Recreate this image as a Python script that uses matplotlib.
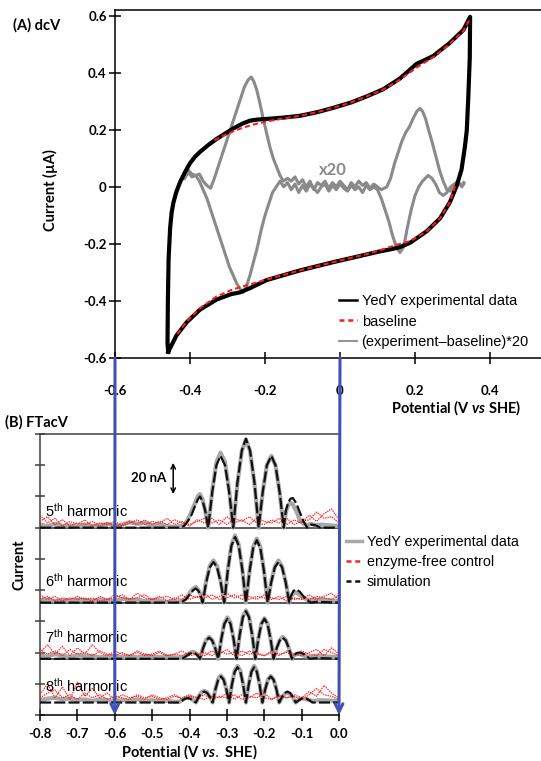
import matplotlib
matplotlib.use('Agg')
import matplotlib.pyplot as plt
from matplotlib.lines import Line2D
from matplotlib.patches import ConnectionPatch

plt.rcParams['font.family'] = ['Liberation Sans', 'DejaVu Sans']
plt.rcParams['mathtext.fontset'] = 'custom'
plt.rcParams['mathtext.rm'] = 'Liberation Sans'
plt.rcParams['mathtext.it'] = 'Lato:italic:bold'
plt.rcParams['mathtext.bf'] = 'Lato:bold'

BOLD = dict(family=['Lato', 'DejaVu Sans'], weight='bold')

# ---------------- (A) dcV data ----------------
CV_V = [-0.458, -0.460, -0.459, -0.457, -0.453, -0.449, -0.444, -0.437, -0.427, -0.414, -0.400, -0.387,
        -0.373, -0.350, -0.329, -0.305,
        -0.284, -0.260, -0.240, -0.220, -0.196, -0.150, -0.107, -0.060, -0.018, 0.030, 0.071, 0.115,
        0.160, 0.204, 0.249, 0.293, 0.329, 0.347,
        0.346, 0.342, 0.338, 0.333, 0.324, 0.311, 0.293, 0.267, 0.231, 0.187, 0.160, 0.142, 0.100,
        0.071, -0.018, -0.107, -0.196, -0.240, -0.267, -0.290, -0.329, -0.373, -0.409, -0.436, -0.458]
CV_I = [-0.578, -0.550, -0.400, -0.250, -0.145, -0.090, -0.054, -0.020, 0.015, 0.050, 0.083, 0.105,
        0.123, 0.148, 0.168, 0.188,
        0.205, 0.222, 0.232, 0.236, 0.238, 0.243, 0.249, 0.262, 0.277, 0.296, 0.317, 0.342,
        0.380, 0.431, 0.459, 0.505, 0.550, 0.596,
        0.450, 0.311, 0.197, 0.140, 0.060, 0.003, -0.054, -0.110, -0.156, -0.196, -0.211, -0.217, -0.228,
        -0.237, -0.264, -0.293, -0.327, -0.355, -0.370, -0.376, -0.395, -0.430, -0.475, -0.521, -0.578]

BASE_UP_V = [-0.335, -0.310, -0.284, -0.260, -0.240, -0.220, -0.196, -0.150, -0.107, -0.060, -0.018,
             0.030, 0.071, 0.115, 0.160, 0.204, 0.249, 0.293, 0.329, 0.345]
BASE_UP_I = [0.163, 0.180, 0.195, 0.207, 0.215, 0.222, 0.229, 0.240, 0.249, 0.262, 0.277,
             0.296, 0.317, 0.341, 0.376, 0.418, 0.455, 0.502, 0.547, 0.585]
BASE_DN_V = [0.307, 0.293, 0.267, 0.231, 0.187, 0.160, 0.142, 0.100, 0.071, -0.018, -0.107, -0.196,
             -0.240, -0.267, -0.290, -0.329, -0.373, -0.409, -0.436]
BASE_DN_I = [0.003, -0.054, -0.110, -0.156, -0.190, -0.200, -0.207, -0.225, -0.236, -0.264, -0.293, -0.325,
             -0.342, -0.352, -0.362, -0.384, -0.425, -0.472, -0.521]

DIFF_UP_V = [-0.415, -0.405, -0.395, -0.385, -0.375, -0.365, -0.355, -0.345, -0.335, -0.325, -0.315,
             -0.305, -0.295, -0.285, -0.275, -0.265, -0.255, -0.245, -0.237, -0.230, -0.222, -0.213,
             -0.205, -0.196, -0.187, -0.178, -0.169, -0.160, -0.151,
             -0.14, -0.13, -0.12, -0.11, -0.10, -0.09, -0.08, -0.07, -0.06, -0.05, -0.04, -0.03, -0.02,
             -0.01, 0.00, 0.01, 0.02, 0.03, 0.04, 0.05, 0.06, 0.07, 0.08, 0.09, 0.10, 0.11,
             0.125, 0.135, 0.145, 0.155, 0.165, 0.175, 0.185, 0.195, 0.205, 0.213, 0.220, 0.228, 0.236,
             0.245, 0.255, 0.265, 0.275, 0.285, 0.295, 0.305, 0.315, 0.325, 0.330]
DIFF_UP_I = [0.030, 0.060, 0.045, 0.040, 0.045, 0.020, 0.005, -0.005, 0.030, 0.070, 0.110,
             0.150, 0.190, 0.230, 0.270, 0.310, 0.350, 0.375, 0.385, 0.370, 0.340, 0.290,
             0.240, 0.190, 0.140, 0.100, 0.070, 0.040, 0.020,
             0.030, 0.020, 0.035, 0.010, 0.025, 0.000, 0.020, -0.010, 0.015, 0.005, 0.020, -0.005, 0.015,
             0.000, 0.020, 0.005, -0.010, 0.015, 0.000, 0.020, 0.005, 0.015, -0.005, 0.010, 0.000, -0.010,
             0.000, 0.030, 0.080, 0.120, 0.160, 0.190, 0.210, 0.240, 0.265, 0.275, 0.265, 0.240, 0.200,
             0.160, 0.110, 0.060, 0.020, -0.010, -0.015, 0.000, 0.010, 0.005, 0.015]

DIFF_DN_V = [-0.415, -0.405, -0.395, -0.385, -0.375, -0.365, -0.355, -0.345, -0.335, -0.325, -0.315,
             -0.305, -0.295, -0.285, -0.275, -0.265, -0.258, -0.250, -0.240, -0.230, -0.220, -0.210,
             -0.200, -0.190, -0.180, -0.170,
             -0.16, -0.15, -0.14, -0.13, -0.12, -0.11, -0.10, -0.09, -0.08, -0.07, -0.06, -0.05, -0.04,
             -0.03, -0.02, -0.01, 0.00, 0.01, 0.02, 0.03, 0.04, 0.05, 0.06, 0.07, 0.08, 0.09,
             0.100, 0.110, 0.120, 0.130, 0.140, 0.150, 0.160, 0.170, 0.180, 0.190, 0.200, 0.210, 0.220,
             0.235, 0.245, 0.255, 0.265, 0.275, 0.285, 0.295, 0.305, 0.315, 0.325, 0.330]
DIFF_DN_I = [0.030, 0.050, 0.035, 0.040, 0.020, -0.010, -0.040, -0.080, -0.120, -0.160, -0.200,
             -0.240, -0.280, -0.310, -0.340, -0.360, -0.370, -0.350, -0.310, -0.260, -0.210, -0.150,
             -0.100, -0.060, -0.020, 0.000,
             0.020, 0.000, 0.015, -0.010, 0.010, -0.020, 0.005, -0.015, 0.010, -0.005, -0.020, 0.000, 0.010,
             -0.015, 0.005, -0.010, 0.010, -0.005, -0.015, 0.005, -0.010, 0.000, -0.020, 0.005, -0.010, 0.000,
             -0.010, -0.040, -0.080, -0.120, -0.170, -0.210, -0.230, -0.210, -0.140, -0.080, -0.030, 0.000, 0.020,
             0.040, 0.030, 0.010, -0.020, -0.030, -0.020, 0.000, 0.010, 0.020, 0.000, 0.010]

A_YTICKS = [-0.6, -0.4, -0.2, 0.0, 0.2, 0.4, 0.6]
A_YLABELS = ['-0.6', '-0.4', '-0.2', '0', '0.2', '0.4', '0.6']
A_XTICKS = [-0.6, -0.4, -0.2, 0.0, 0.2, 0.4]
A_XLABELS = ['-0.6', '-0.4', '-0.2', '0', '0.2', '0.4']

# ---------------- (B) FTacV data (nA above each harmonic's baseline) ----------------
OFFSETS = [120, 72, 36, 8]
HARM_NAMES = ['5', '6', '7', '8']

V5 = [-0.80, -0.43, -0.415, -0.405, -0.395, -0.385, -0.378, -0.372, -0.365, -0.358, -0.350,
      -0.339, -0.328, -0.317, -0.305, -0.294, -0.283,
      -0.272, -0.260, -0.249, -0.238, -0.226, -0.215,
      -0.204, -0.193, -0.181, -0.170, -0.159, -0.148,
      -0.142, -0.136, -0.130, -0.124, -0.115, -0.105, -0.095, -0.085,
      -0.075, -0.062, -0.05, 0.0]
SIM5 = [0, 0, 1, 4, 8, 14, 18, 20, 17, 11, 0,
        23, 40, 46, 40, 23, 0,
        28.5, 49.5, 57, 49.5, 28.5, 0,
        23, 40, 46, 40, 23, 0,
        11, 16, 18.5, 19, 16, 10, 4, 0,
        2, 1.5, 0, 0]
EXP5 = [1.5, 5, 10, 16, 20, 21.5, 18, 11, 0,
        24, 42, 48, 42, 24, 0,
        28, 49, 56.5, 49, 28, 0,
        23, 40, 46, 40, 23, 0,
        10, 14.5, 16, 15, 11, 5, 2.5, 1.5,
        2.5, 1.5, 2, 1]

V6 = [-0.80, -0.435, -0.423, -0.41, -0.40, -0.39, -0.383, -0.376, -0.370, -0.365,
      -0.3553, -0.3457, -0.336, -0.3263, -0.3167, -0.307,
      -0.2973, -0.2877, -0.278, -0.2683, -0.2587, -0.249,
      -0.2393, -0.2297, -0.220, -0.2103, -0.2007, -0.191,
      -0.1813, -0.1717, -0.162, -0.1523, -0.1427, -0.133,
      -0.128, -0.122, -0.115, -0.105, -0.095, -0.085, -0.075,
      -0.06, 0.0]
SIM6 = [0, 0, 0, 2, 5, 8, 9, 7.5, 4.5, 0,
        13, 22.6, 26, 22.6, 13, 0,
        21, 36.5, 42, 36.5, 21, 0,
        20, 34.8, 40, 34.8, 20, 0,
        13, 22.6, 26, 22.6, 13, 0,
        4.5, 7.5, 8.5, 7, 4, 1.5, 0,
        0.5, 0]
EXP6 = [0.5, 2.5, 6, 9, 10, 8, 5, 0,
        14, 23.5, 27, 23.5, 14, 0,
        21.5, 37, 43, 37, 21.5, 0,
        20.5, 35.5, 41, 35.5, 20.5, 0,
        13.5, 23, 27, 23, 13.5, 0,
        4, 6, 6.5, 5, 3, 2, 1.5,
        2, 1]

V7 = [-0.80, -0.43, -0.420, -0.41, -0.40, -0.392, -0.385, -0.378, -0.372,
      -0.3638, -0.3557, -0.3475, -0.3393, -0.3312, -0.323,
      -0.3148, -0.3067, -0.2985, -0.2903, -0.2822, -0.274,
      -0.2657, -0.2573, -0.249, -0.2407, -0.2323, -0.224,
      -0.2158, -0.2077, -0.1995, -0.1913, -0.1832, -0.175,
      -0.1668, -0.1587, -0.1505, -0.1423, -0.1342, -0.126,
      -0.12, -0.112, -0.104, -0.095, -0.086, -0.078, -0.06, 0.0]
SIM7 = [0, 0, 0, 1.5, 3.2, 4, 3.5, 2, 0,
        6.75, 11.7, 13.5, 11.7, 6.75, 0,
        12.8, 22.3, 25.6, 22.3, 12.8, 0,
        15.25, 26.5, 30.5, 26.5, 15.25, 0,
        12.8, 22.3, 25.6, 22.3, 12.8, 0,
        6.75, 11.7, 13.5, 11.7, 6.75, 0,
        2.5, 3.8, 4, 3.2, 1.5, 0, 0.5, 0]
EXP7 = [0.5, 2, 3.5, 4.5, 4, 2.5, 0,
        7, 12, 14, 12, 7, 0,
        13, 23, 26.5, 23, 13, 0,
        15.5, 27, 31, 27, 15.5, 0,
        13, 22.5, 26, 22.5, 13, 0,
        7, 12, 14, 12, 7, 0,
        2.5, 3, 3, 2, 1.5, 1, 2, 1]

V8 = [-0.80, -0.435, -0.427, -0.42, -0.412, -0.405, -0.398, -0.39, -0.383,
      -0.3756, -0.3682, -0.3605, -0.3528, -0.3454, -0.338,
      -0.3307, -0.3233, -0.316, -0.3087, -0.3013, -0.294,
      -0.2866, -0.2791, -0.2715, -0.2639, -0.2564, -0.249,
      -0.2416, -0.2341, -0.227, -0.2199, -0.2124, -0.205,
      -0.1976, -0.1901, -0.1825, -0.1749, -0.1674, -0.160,
      -0.1527, -0.1453, -0.138, -0.1307, -0.1233, -0.116,
      -0.109, -0.101, -0.093, -0.086, -0.078, -0.071, -0.05, 0.0]
SIM8 = [0, 0, 0, 1.2, 2.4, 2.8, 2.4, 1.2, 0,
        3.5, 6.1, 7, 6.1, 3.5, 0,
        8.35, 14.5, 16.7, 14.5, 8.35, 0,
        11.3, 19.7, 22.6, 19.7, 11.3, 0,
        11.3, 19.7, 22.6, 19.7, 11.3, 0,
        8.35, 14.5, 16.7, 14.5, 8.35, 0,
        3.5, 6.1, 7, 6.1, 3.5, 0,
        1.2, 2.4, 2.8, 2.4, 1.2, 0, 0, 0]
EXP8 = [0.5, 1.5, 2.8, 3.2, 2.8, 1.5, 0,
        3.8, 6.5, 7.5, 6.5, 3.8, 0,
        8.6, 15, 17.2, 15, 8.6, 0,
        11.7, 20.3, 23.4, 20.3, 11.7, 0,
        11.7, 20.3, 23.4, 20.3, 11.7, 0,
        8.5, 14.7, 17, 14.7, 8.5, 0,
        3.2, 5.5, 6.3, 5.5, 3.2, 0,
        1.5, 2.5, 2.5, 2, 1.5, 1, 1.5, 1]

# experimental noise before the lobes (-0.80 ... -0.44, step 0.02)
EXP_LEFT_V = [-0.80, -0.78, -0.76, -0.74, -0.72, -0.70, -0.68, -0.66, -0.64, -0.62,
              -0.60, -0.58, -0.56, -0.54, -0.52, -0.50, -0.48, -0.46, -0.44]
EXP5_LEFT = [2, 1, 2.5, 1, 1.5, 0.5, 2, 1, 1.5, 2.5, 1, 2, 3.5, 2.5, 3, 1.5, 2, 1, 0.5]
EXP6_LEFT = [1.5, 2, 1, 1.5, 1, 2, 1.5, 1, 2, 1.5, 1, 2.5, 1.5, 2, 1, 1.5, 1, 0.5, 1]
EXP7_LEFT = [2, 1.5, 3, 2, 1, 2.5, 1.5, 2, 1, 1.5, 2, 1, 1.5, 1, 2, 1.5, 1, 1.5, 1]
EXP8_LEFT = [1.5, 2.5, 3, 2, 2.5, 1.5, 2, 1, 2, 1.5, 1, 1.5, 1, 2, 1, 1.5, 1, 1, 0.5]

# enzyme-free control (two scans), -0.80 ... 0.00 step 0.02
CTRL_V = [-0.80, -0.78, -0.76, -0.74, -0.72, -0.70, -0.68, -0.66, -0.64, -0.62, -0.60,
          -0.58, -0.56, -0.54, -0.52, -0.50, -0.48, -0.46, -0.44, -0.42, -0.40,
          -0.38, -0.36, -0.34, -0.32, -0.30, -0.28, -0.26, -0.24, -0.22, -0.20,
          -0.18, -0.16, -0.14, -0.12, -0.10, -0.08, -0.06, -0.04, -0.02, 0.00]
CTRL5_A = [8, 3, 6, 1, 4, 2, 5, 1, 3, 2, 4, 1, 3, 5, 2, 4, 3, 6, 2, 4, 1,
           5, 3, 6, 2, 7, 3, 5, 2, 6, 4, 3, 6, 2, 5, 3, 8, 4, 9, 12, 5]
CTRL5_B = [4, 7, 2, 5, 1, 3, 2, 4, 1, 3, 1, 2, 4, 2, 5, 2, 4, 2, 5, 3, 2,
           4, 6, 3, 5, 2, 6, 4, 7, 3, 2, 5, 3, 6, 2, 4, 5, 10, 6, 7, 3]
CTRL6_A = [5, 2, 4, 1, 3, 2, 3, 1, 4, 2, 5, 3, 2, 6, 3, 2, 4, 1, 3, 2, 5,
           3, 6, 2, 4, 6, 3, 5, 2, 4, 3, 2, 4, 1, 3, 2, 5, 2, 4, 6, 2]
CTRL6_B = [2, 4, 1, 3, 2, 4, 2, 3, 1, 2, 3, 5, 2, 3, 5, 2, 3, 4, 2, 5, 2,
           4, 3, 5, 2, 3, 5, 2, 4, 2, 5, 3, 2, 4, 2, 3, 2, 4, 3, 2, 5]
CTRL7_A = [4, 9, 3, 8, 2, 7, 3, 9, 4, 2, 5, 3, 2, 4, 2, 3, 5, 2, 3, 2, 4,
           3, 2, 5, 3, 6, 2, 5, 3, 4, 2, 5, 3, 4, 2, 5, 3, 2, 6, 4, 2]
CTRL7_B = [6, 3, 5, 2, 6, 3, 4, 2, 5, 3, 2, 4, 2, 5, 3, 2, 4, 2, 3, 5, 2,
           3, 4, 2, 5, 3, 4, 2, 5, 3, 2, 4, 2, 5, 3, 2, 4, 6, 2, 7, 3]
CTRL8_A = [5, 12, 3, 10, 2, 13, 4, 9, 3, 6, 2, 5, 3, 4, 2, 5, 3, 2, 4, 3, 5,
           3, 2, 4, 3, 6, 2, 5, 4, 3, 6, 2, 4, 3, 5, 3, 7, 4, 11, 6, 3]
CTRL8_B = [3, 6, 8, 3, 5, 2, 6, 3, 5, 2, 4, 3, 2, 5, 3, 4, 2, 3, 5, 2, 4,
           3, 5, 2, 4, 3, 5, 2, 3, 6, 3, 2, 5, 3, 4, 2, 5, 9, 5, 4, 2]

B_XTICKS = [-0.8, -0.7, -0.6, -0.5, -0.4, -0.3, -0.2, -0.1, 0.0]
B_XLABELS = ['-0.8', '-0.7', '-0.6', '-0.5', '-0.4', '-0.3', '-0.2', '-0.1', '0.0']
B_YTICKS = [0, 20, 40, 60, 80, 100, 120, 140, 160, 180]

# ---------------- figure ----------------
W, H = 541, 761
fig = plt.figure(figsize=(W / 100, H / 100), dpi=100)


def fx(px):
    return px / W


def fy(py):
    return 1 - py / H


# ----- panel A -----
axA = fig.add_axes([fx(115), fy(358), 1 - fx(115), fy(10) - fy(358)])
axA.set_xlim(-0.6, -0.6 + (W - 115) / 375)
axA.set_ylim(-0.6, 0.62)
axA.plot(DIFF_UP_V, DIFF_UP_I, color='#8a8a8a', lw=2.2, zorder=2)
axA.plot(DIFF_DN_V, DIFF_DN_I, color='#8a8a8a', lw=2.2, zorder=2)
axA.plot(CV_V, CV_I, color='black', lw=3.0, zorder=3, solid_joinstyle='round')
axA.plot(BASE_UP_V, BASE_UP_I, color='#ff1a1a', lw=1.5, ls=(0, (2.5, 1.5)), zorder=4)
axA.plot(BASE_DN_V, BASE_DN_I, color='#ff1a1a', lw=1.5, ls=(0, (2.5, 1.5)), zorder=4)
axA.text(-0.018, 0.06, 'x20', color='#8a8a8a', fontsize=12, ha='center', va='center', **BOLD)

axA.spines['right'].set_visible(False)
for s in ['left', 'bottom', 'top']:
    axA.spines[s].set_linewidth(1.1)
axA.set_yticks(A_YTICKS, labels=A_YLABELS)
axA.set_xticks(A_XTICKS, labels=A_XLABELS)
axA.tick_params(axis='y', direction='inout', length=8, width=1.1, pad=2, labelsize=9.5)
axA.tick_params(axis='x', direction='inout', length=9, width=1.1, pad=15, labelsize=9.5)
for lab in axA.get_xticklabels() + axA.get_yticklabels():
    lab.set_fontfamily(['Lato', 'DejaVu Sans'])
    lab.set_fontweight('bold')

legA = [Line2D([], [], color='black', lw=1.8),
        Line2D([], [], color='#ff1a1a', lw=1.8, ls=(0, (2, 1.5))),
        Line2D([], [], color='#8a8a8a', lw=1.3)]
axA.legend(legA, ['YedY experimental data', 'baseline', '(experiment\u2013baseline)*20'],
           loc='upper left', bbox_to_anchor=(fx(339), fy(294)), bbox_transform=fig.transFigure,
           frameon=False, fontsize=10.5, handlelength=1.25, handletextpad=0.3,
           labelspacing=0.45, borderpad=0, borderaxespad=0)

fig.text(fx(13), fy(25), '(A) dcV', fontsize=10.5, ha='left', va='center', **BOLD)
fig.text(fx(50), fy(190), 'Current (\u00b5A)', fontsize=10.5, rotation=90, ha='center', va='center', **BOLD)
fig.text(fx(521), fy(408), r'Potential (V $\mathit{vs}$ SHE)', fontsize=10.5, ha='right', va='center', **BOLD)

# ----- panel B -----
axB = fig.add_axes([fx(40), fy(715), fx(339) - fx(40), fy(434) - fy(715)])
axB.set_xlim(-0.8, 0.0)
axB.set_ylim(0, 180)

V_ALL = [V5, V6, V7, V8]
SIM_ALL = [SIM5, SIM6, SIM7, SIM8]
EXP_ALL = [EXP5, EXP6, EXP7, EXP8]
EXPL_ALL = [EXP5_LEFT, EXP6_LEFT, EXP7_LEFT, EXP8_LEFT]
CTRL_ALL = [(CTRL5_A, CTRL5_B), (CTRL6_A, CTRL6_B), (CTRL7_A, CTRL7_B), (CTRL8_A, CTRL8_B)]

for k in range(4):
    off = OFFSETS[k]
    if k < 3:
        axB.axhline(off, color='#404040', lw=1.2, zorder=1)
    ex = EXP_LEFT_V + V_ALL[k][2:]
    ey = [off + v for v in EXPL_ALL[k] + EXP_ALL[k]]
    axB.plot(ex, ey, color='#a8a8a8', lw=3.0, zorder=2, solid_joinstyle='round')
    for tr in CTRL_ALL[k]:
        axB.plot(CTRL_V, [off + v for v in tr], color='#ff2020', lw=0.85, ls=(0, (1.2, 0.8)), zorder=3)
    axB.plot(V_ALL[k], [off + v for v in SIM_ALL[k]], color='#111111', lw=1.6,
             ls=(0, (5, 1.4)), zorder=4)

HARM_Y = [131, 86, 50, 18.5]
for k in range(4):
    axB.text(-0.787, HARM_Y[k], HARM_NAMES[k] + r'$^{\mathrm{th}}$ harmonic', fontsize=10.5,
             ha='left', va='center', zorder=5)

axB.annotate('', xy=(-0.4436, 141.5), xytext=(-0.4436, 161.5),
             arrowprops=dict(arrowstyle='<->', color='black', lw=1.1, shrinkA=0, shrinkB=0,
                             mutation_scale=8))
axB.text(-0.463, 151.5, '20 nA', fontsize=9.5, ha='right', va='center', **BOLD)

axB.spines['right'].set_visible(False)
axB.spines['left'].set_color('#404040')
axB.spines['top'].set_color('#404040')
for s in ['left', 'bottom', 'top']:
    axB.spines[s].set_linewidth(1.1)
axB.set_xticks(B_XTICKS, labels=B_XLABELS)
axB.set_yticks(B_YTICKS, labels=[''] * len(B_YTICKS))
axB.tick_params(axis='y', direction='inout', length=7, width=1.1, color='#404040')
axB.tick_params(axis='x', direction='inout', length=8, width=1.1, pad=5, labelsize=9.5)
for lab in axB.get_xticklabels():
    lab.set_fontfamily(['Lato', 'DejaVu Sans'])
    lab.set_fontweight('bold')

legB = [Line2D([], [], color='#a8a8a8', lw=2.5),
        Line2D([], [], color='#ff2020', lw=1.8, ls=(0, (2, 1.5))),
        Line2D([], [], color='#111111', lw=1.8, ls=(0, (2, 1.5)))]
axB.legend(legB, ['YedY experimental data', 'enzyme-free control', 'simulation'],
           loc='upper left', bbox_to_anchor=(fx(346), fy(535)), bbox_transform=fig.transFigure,
           frameon=False, fontsize=10.3, handlelength=1.15, handletextpad=0.3,
           labelspacing=0.42, borderpad=0, borderaxespad=0)

fig.text(fx(5), fy(422), '(B) FTacV', fontsize=10.5, ha='left', va='center', **BOLD)
fig.text(fx(20), fy(565), 'Current', fontsize=10.5, rotation=90, ha='center', va='center', **BOLD)
fig.text(fx(189), fy(752), r'Potential (V $\mathit{vs.}$ SHE)', fontsize=10.5, ha='center', va='center', **BOLD)

# ----- blue connector arrows -----
for v in [-0.6, 0.0]:
    con = ConnectionPatch(xyA=(v, -0.6), coordsA=axA.transData, xyB=(v, 0), coordsB=axB.transData,
                          arrowstyle='->', color='#3f51b5', lw=2.2, mutation_scale=14, zorder=10)
    fig.add_artist(con)

fig.savefig('out.png', dpi=100)
